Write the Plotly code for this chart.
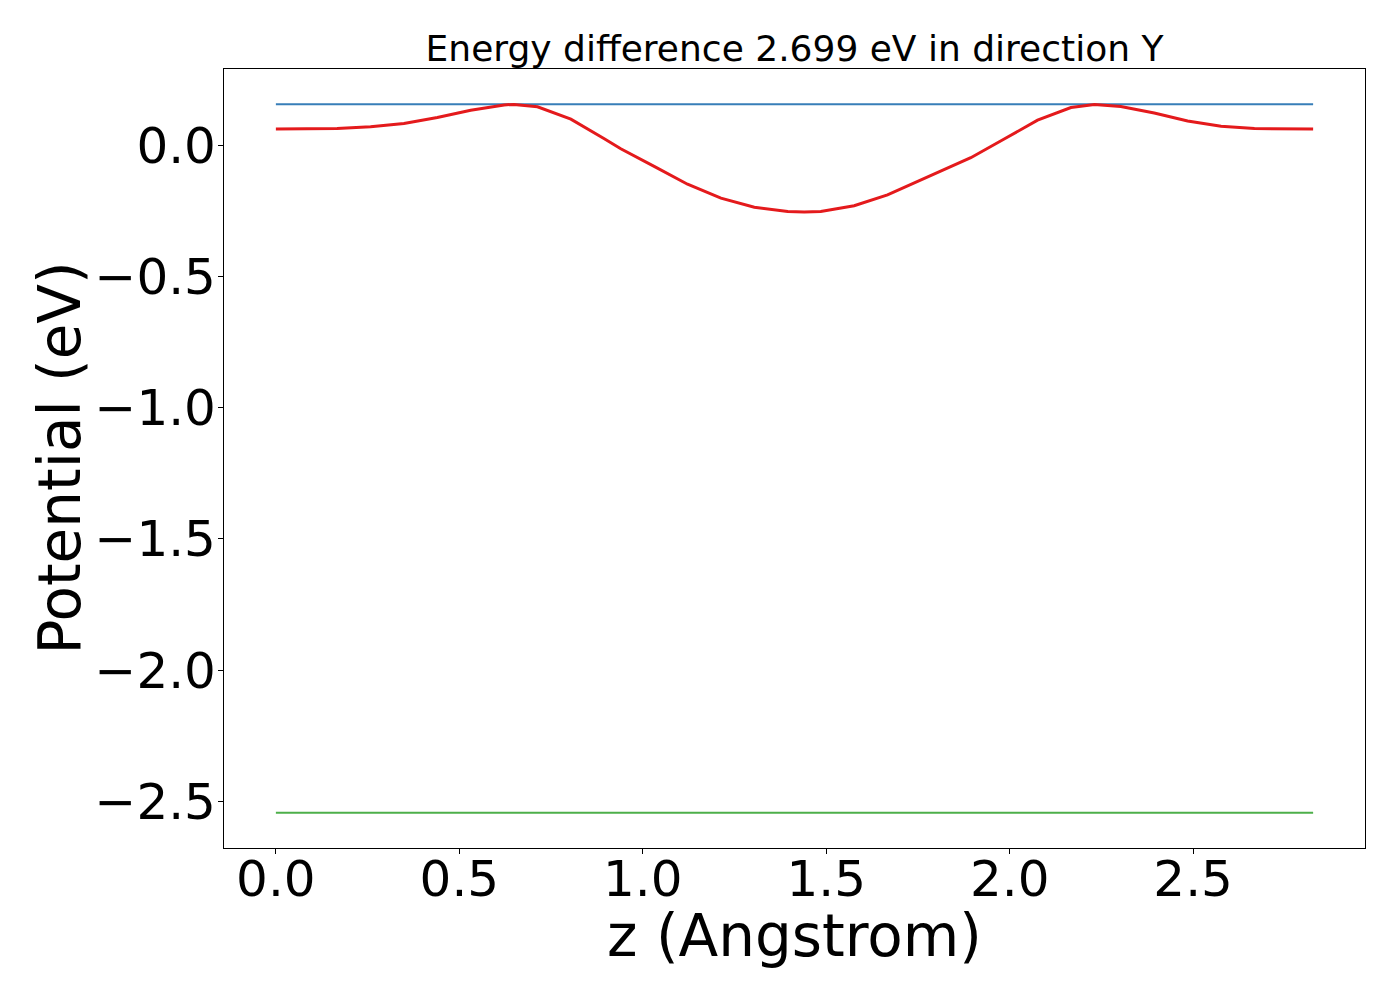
import plotly.graph_objects as go

# z positions (Angstrom) and potential (eV)
z = [0.000, 0.167, 0.258, 0.349, 0.440, 0.531, 0.622, 0.649, 0.713, 0.804,
     0.894, 0.940, 1.031, 1.122, 1.213, 1.304, 1.395, 1.440, 1.485, 1.576,
     1.667, 1.758, 1.849, 1.894, 1.985, 2.076, 2.167, 2.231, 2.303, 2.394,
     2.485, 2.576, 2.667, 2.827]
potential = [0.061, 0.063, 0.070, 0.082, 0.105, 0.133, 0.153, 0.155, 0.146, 0.099,
             0.025, -0.014, -0.081, -0.149, -0.202, -0.237, -0.253, -0.255, -0.253, -0.231,
             -0.190, -0.133, -0.076, -0.048, 0.023, 0.095, 0.143, 0.155, 0.147, 0.122,
             0.092, 0.072, 0.063, 0.061]
z_range = [0.0, 2.827]
upper_level = 0.156
lower_level = -2.543

x_ticks = [0.0, 0.5, 1.0, 1.5, 2.0, 2.5]
x_ticktext = ["0.0", "0.5", "1.0", "1.5", "2.0", "2.5"]
y_ticks = [0.0, -0.5, -1.0, -1.5, -2.0, -2.5]
y_ticktext = ["0.0", "\u22120.5", "\u22121.0", "\u22121.5", "\u22122.0", "\u22122.5"]

title_text = "Energy difference 2.699 eV in direction Y"
x_label = "z (Angstrom)"
y_label = "Potential (eV)"

fig = go.Figure()
fig.add_trace(go.Scatter(x=z_range, y=[upper_level, upper_level], mode="lines",
                         line=dict(color="#377eb8", width=2), showlegend=False))
fig.add_trace(go.Scatter(x=z_range, y=[lower_level, lower_level], mode="lines",
                         line=dict(color="#4daf4a", width=2), showlegend=False))
fig.add_trace(go.Scatter(x=z, y=potential, mode="lines",
                         line=dict(color="#e41a1c", width=3), showlegend=False))

font_family = "DejaVu Sans"
fig.update_layout(
    width=1400, height=1000,
    margin=dict(l=216, r=43, t=61, b=160, pad=0),
    paper_bgcolor="white", plot_bgcolor="white",
    font=dict(family=font_family, color="black"),
    title=dict(text=title_text, x=0.5, xref="paper", xanchor="center",
               y=1, yref="paper", yanchor="bottom", pad=dict(b=8),
               font=dict(size=36, family=font_family, color="black")),
    annotations=[
        dict(text=x_label, xref="paper", yref="paper", x=0.5, y=-0.113,
             xanchor="center", yanchor="middle", showarrow=False,
             font=dict(size=58, family=font_family, color="black")),
        dict(text=y_label, xref="paper", yref="paper", x=-0.1446, y=0.5,
             xanchor="center", yanchor="middle", textangle=-90, showarrow=False,
             font=dict(size=58, family=font_family, color="black")),
    ],
)
fig.update_xaxes(
    range=[-0.1414, 2.9684], tickvals=x_ticks, ticktext=x_ticktext,
    showgrid=False, zeroline=False, showline=True, linecolor="black", linewidth=1.1,
    mirror=True, ticks="outside", ticklen=5, tickwidth=1.1, tickcolor="black",
    tickfont=dict(size=50, family=font_family), ticklabelstandoff=-18,
)
fig.update_yaxes(
    range=[-2.6773, 0.2898], tickvals=y_ticks, ticktext=y_ticktext,
    showgrid=False, zeroline=False, showline=True, linecolor="black", linewidth=1.1,
    mirror=True, ticks="outside", ticklen=5, tickwidth=1.1, tickcolor="black",
    tickfont=dict(size=50, family=font_family), ticklabelstandoff=-8,
)

fig.write_html("out.html")
